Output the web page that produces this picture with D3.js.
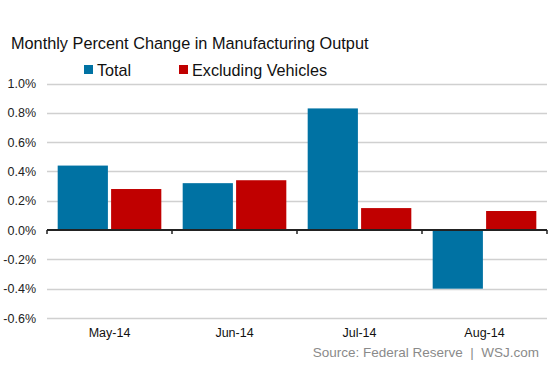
<!DOCTYPE html>
<html><head><meta charset="utf-8">
<script src="https://cdn.jsdelivr.net/npm/d3@7"></script>
<style>body{margin:0;background:#fff;}svg{display:block;font-family:"Liberation Sans",Arial,sans-serif;}</style>
</head><body>
<svg id="c" width="553" height="369"></svg>
<script>
const categories = ["May-14","Jun-14","Jul-14","Aug-14"];
const seriesNames = ["Total","Excluding Vehicles"];
const totalValues = [0.44, 0.32, 0.83, -0.40];
const exVehicleValues = [0.28, 0.34, 0.15, 0.13];
const yTicks = [1.0,0.8,0.6,0.4,0.2,0.0,-0.2,-0.4,-0.6];
const colors = ["#0072A3","#C00000"];

const svg = d3.select("#c");
const x = d3.scaleBand().domain(categories).range([47,547]).paddingInner(0).paddingOuter(0);
const xs = d3.scaleBand().domain(seriesNames).range([0, x.bandwidth()]).paddingInner(0.06).paddingOuter(0.2);
const y = d3.scaleLinear().domain([-0.6,1.0]).range([318,83.5]);

// gridlines
svg.append("g").selectAll("line").data(yTicks.filter(d=>d!==0)).join("line")
  .attr("x1",47).attr("x2",547).attr("y1",d=>Math.round(y(d))+0.5).attr("y2",d=>Math.round(y(d))+0.5)
  .attr("stroke","#d0d0d0").attr("stroke-width",1.5);

// y labels
svg.append("g").selectAll("text").data(yTicks).join("text")
  .attr("x",36).attr("y",d=>y(d)+4.5).attr("text-anchor","end")
  .attr("font-size",12.5).attr("fill","#222").text(d=>d.toFixed(1)+"%");

const data = categories.map((c,i)=>[{s:seriesNames[0],v:totalValues[i],c:c},{s:seriesNames[1],v:exVehicleValues[i],c:c}]);
svg.append("g").selectAll("g").data(data).join("g")
  .attr("transform",d=>`translate(${x(d[0].c)},0)`)
  .selectAll("rect").data(d=>d).join("rect")
  .attr("x",d=>xs(d.s)).attr("width",xs.bandwidth())
  .attr("y",d=>y(Math.max(0,d.v))).attr("height",d=>Math.abs(y(d.v)-y(0)))
  .attr("fill",(d,i)=>colors[i]);

// zero axis
const axis = d3.axisBottom(x).tickSize(4).tickFormat("");
const ag = svg.append("g").attr("transform",`translate(0,${y(0)})`).call(axis);
ag.select(".domain").attr("stroke","#222").attr("stroke-width",2).attr("d","M47,0H547");
ag.selectAll(".tick").remove();
const bounds = [47].concat(categories.map(c=>x(c)+x.bandwidth()));
ag.selectAll("line.b").data(bounds).join("line").attr("class","b")
  .attr("x1",d=>d).attr("x2",d=>d).attr("y1",0).attr("y2",4).attr("stroke","#222").attr("stroke-width",1.5);

// x labels
svg.append("g").selectAll("text").data(categories).join("text")
  .attr("x",d=>x(d)+x.bandwidth()/2).attr("y",337).attr("text-anchor","middle")
  .attr("font-size",12.5).attr("fill","#111").text(d=>d);

// title
svg.append("text").attr("x",11).attr("y",49).attr("font-size",16.3).attr("fill","#111")
  .text("Monthly Percent Change in Manufacturing Output");

// legend
const lg = svg.append("g");
const legX = [84,179];
seriesNames.forEach((n,i)=>{
  lg.append("rect").attr("x",legX[i]).attr("y",65).attr("width",9).attr("height",9).attr("fill",colors[i]);
  lg.append("text").attr("x",legX[i]+13).attr("y",75.5).attr("font-size",16.2).attr("fill","#111").text(n);
});

// source
svg.append("text").attr("x",539).attr("y",357).attr("text-anchor","end").style("white-space","pre")
  .attr("font-size",13.5).attr("fill","#8a8a8a").text("Source: Federal Reserve  |  WSJ.com");
</script>
</body></html>
